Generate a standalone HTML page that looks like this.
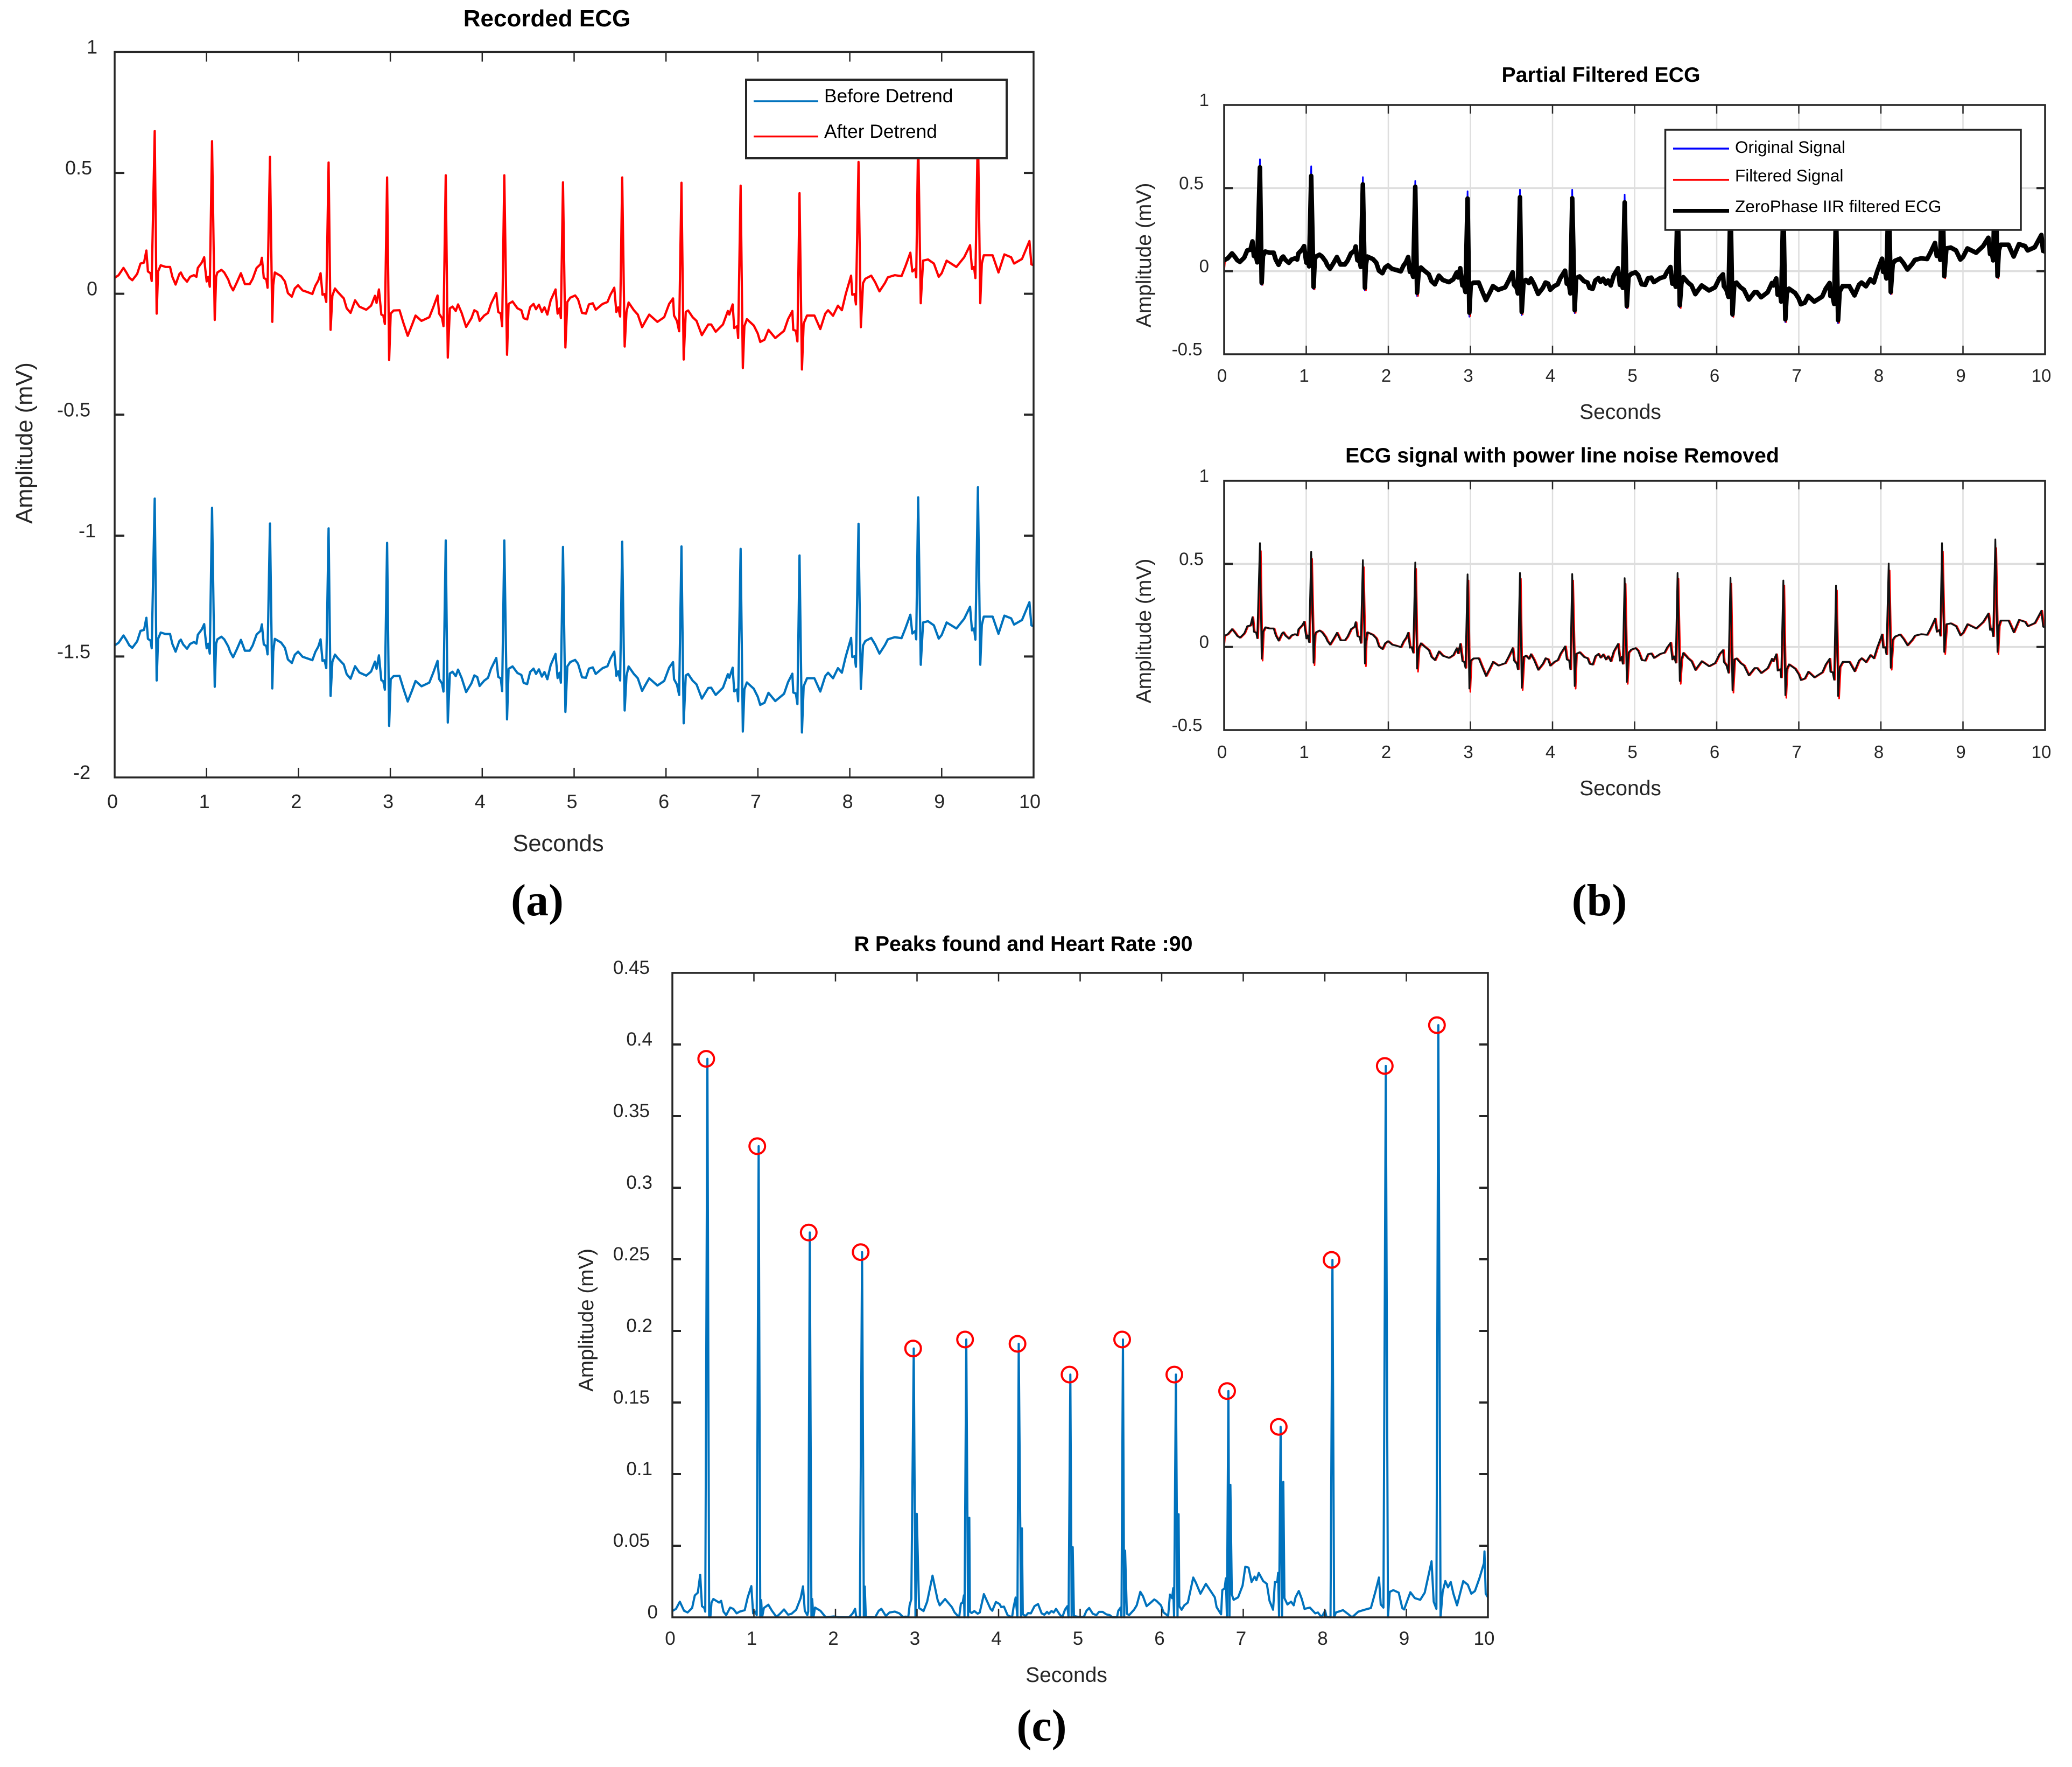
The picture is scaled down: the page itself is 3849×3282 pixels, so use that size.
<!DOCTYPE html>
<html lang="en">
<head>
<meta charset="utf-8">
<title>ECG signal processing figure</title>
<style>
html,body{margin:0;padding:0;background:#fff;}
svg{display:block;}
text{font-family:"Liberation Sans",Arial,sans-serif;fill:#262626;}
.title{font-weight:bold;fill:#000;text-anchor:middle;}
.axis-label{text-anchor:middle;}
.panel-tag{font-family:"Liberation Serif",serif;font-weight:bold;fill:#000;text-anchor:middle;font-size:84px;}
.legend-text{fill:#000;}
</style>
</head>
<body>
<svg id="figure" xmlns="http://www.w3.org/2000/svg" width="3849" height="3282" viewBox="0 0 3849 3282">
  <rect x="0" y="0" width="3849" height="3282" fill="#fff"/>

  <g>
    <g id="a-marks"></g><g id="a-frame"></g>
    <text class="title" x="1016" y="49" font-size="44">Recorded ECG</text>
    <text class="axis-label" x="1037" y="1581" font-size="43.5">Seconds</text>
    <text class="axis-label" font-size="43.5" transform="translate(60 823) rotate(-90)">Amplitude (mV)</text>
    <g>
      <rect x="1386" y="148" width="484" height="146" fill="#fff" stroke="#262626" stroke-width="4"/>
      <line x1="1400" x2="1520" y1="188" y2="188" stroke="#0072BD" stroke-width="3.5"/>
      <text class="legend-text" x="1531" y="190" font-size="35.3">Before Detrend</text>
      <line x1="1400" x2="1520" y1="253.5" y2="253.5" stroke="#ff0000" stroke-width="3.5"/>
      <text class="legend-text" x="1531" y="256" font-size="35.3">After Detrend</text>
    </g>
    <text class="panel-tag" x="998" y="1700">(a)</text>
  </g>

  <g>
    <g id="b1-marks"></g><g id="b1-frame"></g>
    <text class="title" x="2974" y="152" font-size="39.3">Partial Filtered ECG</text>
    <text class="axis-label" x="3010" y="778" font-size="39">Seconds</text>
    <text class="axis-label" font-size="39" transform="translate(2138 474) rotate(-90)">Amplitude (mV)</text>
    <g>
      <rect x="3093.5" y="241" width="660.5" height="186" fill="#fff" stroke="#262626" stroke-width="3.5"/>
      <line x1="3108" x2="3212" y1="276" y2="276" stroke="#0000ff" stroke-width="3.5"/>
      <text class="legend-text" x="3223" y="284" font-size="31.5">Original Signal</text>
      <line x1="3108" x2="3212" y1="334" y2="334" stroke="#ff0000" stroke-width="3.5"/>
      <text class="legend-text" x="3223" y="337" font-size="31.5">Filtered Signal</text>
      <line x1="3108" x2="3212" y1="391.5" y2="391.5" stroke="#000" stroke-width="7"/>
      <text class="legend-text" x="3223" y="394" font-size="31.5">ZeroPhase IIR filtered ECG</text>
    </g>
  </g>

  <g>
    <g id="b2-marks"></g><g id="b2-frame"></g>
    <text class="title" x="2902" y="859" font-size="39.3">ECG signal with power line noise Removed</text>
    <text class="axis-label" x="3010" y="1477" font-size="39">Seconds</text>
    <text class="axis-label" font-size="39" transform="translate(2138 1172) rotate(-90)">Amplitude (mV)</text>
    <text class="panel-tag" x="2971" y="1700">(b)</text>
  </g>

  <g>
    <g id="c-marks"></g><g id="c-frame"></g>
    <text class="title" x="1901" y="1766" font-size="39.3">R Peaks found and Heart Rate :90</text>
    <text class="axis-label" x="1981" y="3124" font-size="39">Seconds</text>
    <text class="axis-label" font-size="38.6" transform="translate(1102 2452) rotate(-90)">Amplitude (mV)</text>
    <text class="panel-tag" x="1935" y="3233">(c)</text>
  </g>
</svg>

<script>
// ---- shared tick labels ----
const xTickLabels = ['0','1','2','3','4','5','6','7','8','9','10'];
const aYTickLabels = ['1','0.5','0','-0.5','-1','-1.5','-2'];
const bYTickLabels = ['1','0.5','0','-0.5'];
const cYTickLabels = ['0.45','0.4','0.35','0.3','0.25','0.2','0.15','0.1','0.05','0'];

// ---- ECG baseline samples (seconds) ----
const baseTimes = [
0,.043,.096,.128,.16,.192,.245,.281,.32,.345,
.362,.39,.403,.473,.501,.554,.603,.628,.663,.703,
.72,.746,.788,.82,.863,.89,.905,.948,.974,.986,
1.001,1.018,1.035,1.104,1.118,1.161,1.193,1.236,1.257,1.289,
1.331,1.374,1.417,1.47,1.502,1.545,1.587,1.602,1.623,1.651,
1.664,1.726,1.743,1.811,1.853,1.885,1.928,1.96,1.996,2.045,
2.098,2.152,2.184,2.216,2.241,2.262,2.284,2.303,2.369,2.397,
2.429,2.493,2.525,2.567,2.616,2.663,2.738,2.791,2.833,2.85,
2.876,2.902,2.923,2.94,3.004,3.036,3.1,3.142,3.189,3.238,
3.274,3.339,3.424,3.467,3.514,3.531,3.563,3.578,3.648,3.676,
3.712,3.737,3.776,3.825,3.882,3.914,3.946,3.972,4.021,4.063,
4.095,4.153,4.174,4.202,4.217,4.287,4.33,4.383,4.426,4.451,
4.489,4.521,4.558,4.585,4.617,4.649,4.677,4.709,4.745,4.798,
4.82,4.841,4.856,4.926,4.958,5.011,5.043,5.086,5.129,5.161,
5.203,5.235,5.31,5.363,5.395,5.437,5.459,5.48,5.501,5.57,
5.593,5.65,5.693,5.74,5.778,5.817,5.906,5.98,6.034,6.077,
6.087,6.119,6.143,6.215,6.241,6.29,6.332,6.39,6.46,6.492,
6.541,6.62,6.673,6.689,6.725,6.742,6.774,6.785,6.853,6.88,
6.955,6.998,7.025,7.072,7.115,7.189,7.285,7.328,7.375,7.385,
7.413,7.43,7.498,7.534,7.615,7.679,7.733,7.764,7.818,7.871,
7.914,7.956,8.014,8.027,8.052,8.067,8.144,8.169,8.233,8.276,
8.323,8.382,8.414,8.489,8.563,8.606,8.659,8.68,8.713,8.723,
8.798,8.851,8.915,8.968,9,9.054,9.16,9.245,9.309,9.33,
9.352,9.367,9.437,9.458,9.554,9.618,9.682,9.756,9.788,9.874,
9.955,9.976,10];

// after-detrend baseline (mV)
const afterBase = [
.066,.077,.107,.088,.066,.056,.082,.125,.129,.179,
.092,.085,.053,.092,.118,.111,.111,.07,.038,.081,
.088,.068,.05,.07,.077,.07,.107,.129,.151,.103,
.051,.07,.029,.07,.088,.099,.088,.059,.036,.014,
.048,.085,.04,.04,.062,.107,.122,.149,.066,.059,
.025,.036,.088,.073,.051,.003,-.012,.022,.035,.014,
.007,-.001,.033,.055,.085,-.004,-.001,-.034,-.008,.022,
.007,-.019,-.06,-.079,-.027,-.053,-.066,-.049,-.008,-.038,
.018,-.086,-.09,-.125,-.082,-.069,-.068,-.12,-.174,-.127,
-.09,-.112,-.097,-.056,-.007,-.082,-.101,-.134,-.06,-.053,
-.071,-.044,-.079,-.137,-.101,-.068,-.075,-.112,-.09,-.079,
-.042,.003,-.075,-.082,-.134,-.042,-.032,-.06,-.068,-.101,
-.106,-.056,-.042,-.064,-.045,-.075,-.056,-.086,-.027,.018,
-.082,-.06,-.101,-.034,-.016,-.007,-.023,-.079,-.082,-.044,
-.039,-.066,-.042,-.034,-.004,.025,-.075,-.056,-.094,-.075,
-.036,-.068,-.086,-.138,-.112,-.086,-.116,-.097,-.042,-.019,
-.09,-.112,-.155,-.075,-.069,-.097,-.112,-.171,-.127,-.127,
-.157,-.127,-.071,-.086,-.044,-.142,-.134,-.183,-.134,-.105,
-.131,-.164,-.199,-.19,-.149,-.183,-.153,-.105,-.071,-.149,
-.153,-.197,-.123,-.09,-.09,-.146,-.082,-.068,-.091,-.049,
-.068,-.001,.075,-.004,-.001,-.044,.044,.062,.075,.048,
.01,.044,.068,.077,.073,.114,.17,.092,.103,.068,
.137,.142,.125,.07,.085,.137,.111,.151,.201,.103,
.111,.065,.125,.159,.159,.088,.163,.151,.125,.144,
.218,.122,.118];

// before-detrend baseline (mV)
const beforeBase = [
-1.454,-1.443,-1.413,-1.432,-1.454,-1.464,-1.437,-1.394,-1.39,-1.34,
-1.427,-1.434,-1.466,-1.427,-1.401,-1.407,-1.407,-1.448,-1.48,-1.437,
-1.43,-1.45,-1.468,-1.448,-1.44,-1.447,-1.41,-1.388,-1.366,-1.414,
-1.466,-1.447,-1.488,-1.447,-1.429,-1.418,-1.429,-1.458,-1.481,-1.503,
-1.469,-1.431,-1.476,-1.476,-1.454,-1.409,-1.394,-1.367,-1.45,-1.457,
-1.491,-1.48,-1.427,-1.442,-1.464,-1.512,-1.527,-1.493,-1.48,-1.501,
-1.508,-1.515,-1.481,-1.459,-1.429,-1.518,-1.515,-1.548,-1.522,-1.492,
-1.507,-1.533,-1.573,-1.592,-1.54,-1.566,-1.579,-1.562,-1.521,-1.551,
-1.495,-1.598,-1.602,-1.637,-1.594,-1.581,-1.58,-1.632,-1.686,-1.639,
-1.601,-1.623,-1.608,-1.567,-1.518,-1.593,-1.612,-1.645,-1.57,-1.563,
-1.581,-1.554,-1.589,-1.647,-1.611,-1.578,-1.585,-1.622,-1.6,-1.588,
-1.551,-1.506,-1.584,-1.591,-1.643,-1.551,-1.541,-1.568,-1.576,-1.609,
-1.614,-1.564,-1.55,-1.572,-1.553,-1.583,-1.564,-1.594,-1.535,-1.489,
-1.589,-1.567,-1.608,-1.541,-1.523,-1.514,-1.53,-1.586,-1.588,-1.55,
-1.545,-1.572,-1.548,-1.54,-1.509,-1.48,-1.58,-1.561,-1.599,-1.58,
-1.541,-1.572,-1.59,-1.642,-1.616,-1.59,-1.62,-1.601,-1.546,-1.523,
-1.594,-1.616,-1.659,-1.578,-1.572,-1.6,-1.615,-1.674,-1.63,-1.629,
-1.659,-1.629,-1.573,-1.588,-1.546,-1.644,-1.636,-1.685,-1.636,-1.607,
-1.633,-1.666,-1.7,-1.691,-1.65,-1.684,-1.654,-1.606,-1.571,-1.649,
-1.653,-1.697,-1.623,-1.59,-1.59,-1.645,-1.581,-1.567,-1.59,-1.548,
-1.567,-1.5,-1.423,-1.502,-1.499,-1.542,-1.454,-1.436,-1.423,-1.45,
-1.488,-1.453,-1.429,-1.42,-1.424,-1.383,-1.327,-1.405,-1.394,-1.429,
-1.359,-1.354,-1.371,-1.426,-1.411,-1.359,-1.384,-1.344,-1.294,-1.392,
-1.384,-1.43,-1.369,-1.335,-1.335,-1.406,-1.331,-1.342,-1.368,-1.349,
-1.275,-1.371,-1.375];

// ---- QRS complexes, one entry per beat ----
const rTimes = [.436,1.06,1.69,2.328,2.965,3.603,4.24,4.879,5.523,6.168,6.812,7.453,8.095,8.744,9.394];
const sTimes = [.457,1.089,1.715,2.35,2.987,3.625,4.27,4.905,5.55,6.192,6.836,7.479,8.12,8.772,9.42];
const afterPeak = [.673,.631,.566,.543,.481,.49,.49,.461,.481,.459,.447,.416,.545,.652,.692];
const afterTrough = [-.082,-.108,-.116,-.149,-.274,-.264,-.252,-.222,-.218,-.272,-.307,-.313,-.138,-.039,-.039];
const beforePeak = [-.847,-.885,-.95,-.97,-1.03,-1.02,-1.02,-1.047,-1.025,-1.045,-1.055,-1.082,-.951,-.842,-.8];
const beforeTrough = [-1.599,-1.625,-1.632,-1.663,-1.787,-1.773,-1.76,-1.729,-1.723,-1.776,-1.81,-1.814,-1.634,-1.534,-1.534];
const zeroPhasePeak = [.625,.573,.522,.508,.437,.445,.439,.414,.445,.416,.4,.369,.502,.625,.647];
const zeroPhaseTrough = [-.07,-.095,-.1,-.13,-.25,-.245,-.235,-.21,-.205,-.26,-.29,-.295,-.125,-.03,-.03];
const filteredPeak = [.577,.53,.48,.47,.4,.41,.4,.38,.41,.38,.37,.34,.46,.575,.595];
const filteredTrough = [-.082,-.11,-.116,-.149,-.27,-.259,-.251,-.222,-.222,-.275,-.306,-.31,-.137,-.043,-.043];
const filteredDelay = 0.012;
const filteredStartValue = 0;

// ---- panel c: processed signal ----
const cTimes = [
0,.044,.092,.143,.187,.242,.275,.312,.341,.363,.392,.403,.451,.466,.48,.502,.539,.572,.598,.627,
.66,.708,.748,.788,.825,.887,.924,.968,.99,1.016,1.034,1.078,1.089,1.1,1.122,1.177,1.221,1.276,1.32,1.369,
1.419,1.463,1.518,1.573,1.602,1.624,1.655,1.666,1.705,1.714,1.73,1.749,1.815,1.881,1.98,2.035,2.167,2.211,2.24,2.255,
2.299,2.348,2.359,2.372,2.486,2.53,2.563,2.618,2.662,2.728,2.783,2.827,2.86,2.893,2.909,2.93,2.981,2.997,3.025,3.08,
3.124,3.19,3.252,3.278,3.344,3.428,3.461,3.516,3.538,3.56,3.575,3.582,3.626,3.641,3.648,3.67,3.703,3.743,3.769,3.82,
3.857,3.901,3.923,3.967,4.011,4.033,4.066,4.11,4.165,4.183,4.209,4.231,4.275,4.286,4.297,4.33,4.363,4.396,4.44,4.484,
4.528,4.561,4.594,4.616,4.649,4.675,4.704,4.748,4.781,4.814,4.843,4.858,4.896,4.909,4.924,4.979,5.045,5.078,5.111,5.155,
5.199,5.232,5.276,5.32,5.364,5.397,5.452,5.468,5.496,5.507,5.54,5.551,5.573,5.6,5.661,5.694,5.738,5.771,5.815,5.87,
5.908,5.936,5.991,6.024,6.079,6.101,6.128,6.141,6.152,6.194,6.207,6.216,6.244,6.277,6.321,6.387,6.42,6.475,6.541,6.607,
6.651,6.673,6.728,6.743,6.772,6.787,6.8,6.831,6.842,6.86,6.882,6.937,6.992,7.025,7.065,7.102,7.139,7.161,7.19,7.245,
7.289,7.322,7.366,7.388,7.417,7.428,7.439,7.476,7.491,7.505,7.542,7.586,7.619,7.641,7.681,7.718,7.751,7.817,7.883,7.916,
7.96,8.004,8.02,8.07,8.114,8.136,8.224,8.29,8.334,8.411,8.488,8.565,8.62,8.664,8.686,8.719,8.774,8.796,8.84,8.906,
8.95,8.972,9.049,9.104,9.17,9.225,9.309,9.335,9.368,9.419,9.445,9.478,9.511,9.544,9.577,9.621,9.698,9.753,9.797,9.841,
9.896,9.951,9.958,9.973,10];
const cValues = [
.0044,.0059,.0109,.0046,.0034,.0065,.0153,.0172,.0297,.0078,.0065,.004,0,0,.0103,.0128,.0115,.0103,.0115,.004,
.0015,.0068,.0059,.0028,.004,.005,.014,.0218,.0028,.004,.0015,0,.012,0,.0065,.0088,.0046,.0003,.0025,.0055,
.0018,.0025,.0053,.0134,.0216,.0046,.0015,.004,0,.0128,0,.0068,.0046,0,.0006,0,0,.0028,.0059,.0003,
0,0,.0215,0,0,.0046,.0059,.0009,.0034,.004,.0028,.0003,.0005,.0003,.0084,.0128,0,.0723,.0065,.0044,
.0109,.0291,.0122,.0084,.0128,.0071,.0034,0,.0096,.0103,.0153,0,0,.0695,.004,.003,.0044,.0025,.0034,.0162,
.0115,.0059,.0046,.0107,.0093,.0071,.0075,.0015,0,.0068,.0138,0,0,.0621,.0021,.0009,.003,.0028,.0078,.0093,
.0028,.0018,.0038,.0025,.0044,.0034,.0059,.0021,0,.0053,.0078,0,0,.049,.0009,.0003,.0003,.0046,.0065,.0025,
.0015,.0038,.0038,.0021,.0015,0,0,.0046,.0068,0,0,.0465,.0025,.0015,.0053,.0084,.0178,.0147,.0078,.0105,
.0125,.0115,.0084,.0034,.0009,.0159,.0134,.0203,0,0,.072,.0078,.0053,.0084,.0103,.0278,.0241,.0165,.0234,.0178,
.014,.0071,.0021,.019,.0203,.0272,0,0,.0925,.0159,.0122,.014,.0222,.0353,.0347,.0247,.0284,.0259,.031,.0253,
.0234,.0115,.0053,.0247,.0247,.031,0,0,.0945,.0134,.009,.0109,.0084,.014,.0184,.0128,.0059,.0068,.0028,.0034,
0,.0046,.0003,0,0,.0034,.005,.0021,0,.004,.0053,.0065,.0178,.0278,.009,.0068,0,.0178,.019,.0172,
.0065,.0055,.0175,.0134,.0122,.0172,.0391,.0109,.0059,0,.0178,.0253,.0209,.0247,.0165,.0084,.0253,.0228,.0165,.0184,
.0272,.0378,.046,.0165,.014];
const cSpikeTimes = [.43,1.058,1.685,2.326,2.96,3.604,4.247,4.88,5.525,6.174,6.818,7.458,8.094,8.748,9.392];
const cPeakLocations = [.415,1.041,1.672,2.309,2.952,3.589,4.232,4.87,5.515,6.155,6.802,7.435,8.083,8.735,9.375];
const cPeakAmplitudes = [.39,.329,.2687,.255,.1877,.194,.191,.1695,.194,.1695,.158,.133,.2496,.385,.4135];

// ---- helpers ----
const SVGNS = 'http://www.w3.org/2000/svg';
function make(tag, parent, attrs) {
  const el = document.createElementNS(SVGNS, tag);
  for (const k in attrs) el.setAttribute(k, attrs[k]);
  parent.appendChild(el);
  return el;
}
function linear(d0, d1, r0, r1) {
  return function (v) { return r0 + (v - d0) * (r1 - r0) / (d1 - d0); };
}
function mergeSeries(tA, vA, tB, vB, tC, vC) {
  const pts = [];
  tA.forEach(function (t, i) { pts.push([t, vA[i]]); });
  tB.forEach(function (t, i) { pts.push([t, vB[i]]); });
  if (tC) tC.forEach(function (t, i) { pts.push([t, vC[i]]); });
  pts.sort(function (p, q) { return p[0] - q[0]; });
  return pts;
}
function drawLine(parentId, name, pts, sx, sy, color, width) {
  const d = pts.map(function (p, i) {
    return (i ? 'L' : 'M') + sx(p[0]).toFixed(1) + ' ' + sy(p[1]).toFixed(1);
  }).join('');
  const el = make('path', document.getElementById(parentId), {
    d: d, fill: 'none', stroke: color, 'stroke-width': width, 'stroke-linejoin': 'round', 'stroke-linecap': 'butt'
  });
  
  
  return el;
}
function drawAxes(cfg) {
  const frame = document.getElementById(cfg.id + '-frame');
  const marks = document.getElementById(cfg.id + '-marks');
  const xs = linear(0, 10, cfg.left, cfg.right);
  const ys = linear(cfg.yMin, cfg.yMax, cfg.bottom, cfg.top);
  if (cfg.grid) {
    xTickLabels.forEach(function (lab) {
      const v = Number(lab);
      if (v === 0 || v === 10) return;
      const g = make('line', marks, { x1: xs(v), x2: xs(v), y1: cfg.top, y2: cfg.bottom, stroke: '#dedede', 'stroke-width': 2.5 });
      
      
    });
    cfg.yLabels.forEach(function (lab) {
      const v = Number(lab);
      if (v === cfg.yMin || v === cfg.yMax) return;
      const g = make('line', marks, { x1: cfg.left, x2: cfg.right, y1: ys(v), y2: ys(v), stroke: '#dedede', 'stroke-width': 3.5 });
      
      
    });
  }
  const box = make('rect', frame, { x: cfg.left, y: cfg.top, width: cfg.right - cfg.left, height: cfg.bottom - cfg.top, fill: 'none', stroke: '#262626', 'stroke-width': 3.5 });
  
  
  xTickLabels.forEach(function (lab) {
    const v = Number(lab);
    if (v !== 0 && v !== 10) {
      const t1 = make('line', frame, { x1: xs(v), x2: xs(v), y1: cfg.bottom, y2: cfg.bottom - cfg.tick, stroke: '#262626', 'stroke-width': 2.5 });
      
      
      const t2 = make('line', frame, { x1: xs(v), x2: xs(v), y1: cfg.top, y2: cfg.top + cfg.tick, stroke: '#262626', 'stroke-width': 2.5 });
      
      
    }
    const txt = make('text', frame, { x: xs(v) - (lab === '10' ? 7 : 4), y: cfg.xLabelY, 'font-size': cfg.fontSize, 'text-anchor': 'middle' });
    txt.textContent = lab;
    
    
  });
  cfg.yLabels.forEach(function (lab) {
    const v = Number(lab);
    if (v !== cfg.yMin && v !== cfg.yMax) {
      const t1 = make('line', frame, { x1: cfg.left, x2: cfg.left + cfg.tick, y1: ys(v), y2: ys(v), stroke: '#262626', 'stroke-width': 4 });
      
      
      const t2 = make('line', frame, { x1: cfg.right, x2: cfg.right - cfg.tick, y1: ys(v), y2: ys(v), stroke: '#262626', 'stroke-width': 4 });
      
      
    }
    const txt = make('text', frame, { x: cfg.labelRight(lab), y: ys(v) + cfg.labelDy, 'font-size': cfg.fontSize, 'text-anchor': 'end' });
    txt.textContent = lab;
    
    
  });
  return { xs: xs, ys: ys };
}

// ---- panel a ----
const aAxes = drawAxes({
  id: 'a', left: 213, right: 1920, top: 96.5, bottom: 1444, yMin: -2, yMax: 1, tick: 18,
  yLabels: aYTickLabels, xLabelY: 1501, fontSize: 36, labelDy: 3,
  labelRight: function (l) { return l.length === 1 ? 181 : (l === '-1' ? 178 : (l.length === 3 ? 171 : 168)); }
});
drawLine('a-marks', 'series-before-detrend', mergeSeries(baseTimes, beforeBase, rTimes, beforePeak, sTimes, beforeTrough), aAxes.xs, aAxes.ys, '#0072BD', 4.2);
drawLine('a-marks', 'series-after-detrend', mergeSeries(baseTimes, afterBase, rTimes, afterPeak, sTimes, afterTrough), aAxes.xs, aAxes.ys, '#ff0000', 4.2);

// ---- panel b ----
function bLabelRight(l) { return l.length === 1 ? 2246 : (l.length === 3 ? 2236 : 2233.5); }
const b1Axes = drawAxes({
  id: 'b1', left: 2274, right: 3799, top: 195, bottom: 658, yMin: -0.5, yMax: 1, tick: 16, grid: true,
  yLabels: bYTickLabels, xLabelY: 709, fontSize: 33, labelDy: 2, labelRight: bLabelRight
});
const b2Axes = drawAxes({
  id: 'b2', left: 2274, right: 3799, top: 893, bottom: 1356, yMin: -0.5, yMax: 1, tick: 16, grid: true,
  yLabels: bYTickLabels, xLabelY: 1408, fontSize: 33, labelDy: 2, labelRight: bLabelRight
});
const originalSeries = mergeSeries(baseTimes, afterBase, rTimes, afterPeak, sTimes, afterTrough);
const zeroPhaseSeries = mergeSeries(baseTimes, afterBase, rTimes, zeroPhasePeak, sTimes, zeroPhaseTrough);
const filteredSeries = [[0, filteredStartValue]].concat(
  mergeSeries(baseTimes, afterBase, rTimes, filteredPeak, sTimes, filteredTrough).map(function (p) {
    return [Math.min(10, p[0] + filteredDelay), p[1]];
  })
);
drawLine('b1-marks', 'series-original-signal', originalSeries, b1Axes.xs, b1Axes.ys, '#0000ff', 3);
drawLine('b1-marks', 'series-filtered-signal', filteredSeries, b1Axes.xs, b1Axes.ys, '#ff0000', 3);
drawLine('b1-marks', 'series-zerophase-iir', zeroPhaseSeries, b1Axes.xs, b1Axes.ys, '#000000', 8.5);
drawLine('b2-marks', 'series-filtered-signal-b2', filteredSeries, b2Axes.xs, b2Axes.ys, '#ff0000', 3);
drawLine('b2-marks', 'series-zerophase-iir-b2', zeroPhaseSeries, b2Axes.xs, b2Axes.ys, '#111111', 3.2);

// ---- panel c ----
const cAxes = drawAxes({
  id: 'c', left: 1249, right: 2764, top: 1807, bottom: 3004, yMin: 0, yMax: 0.45, tick: 16,
  yLabels: cYTickLabels, xLabelY: 3055, fontSize: 35, labelDy: 2,
  labelRight: function (l) { return l.length === 1 ? 1222 : (l.length === 3 ? 1212 : 1207); }
});
drawLine('c-marks', 'series-squared-signal', mergeSeries(cTimes, cValues, cSpikeTimes, cPeakAmplitudes), cAxes.xs, cAxes.ys, '#0072BD', 4);
cPeakLocations.forEach(function (t, i) {
  const c = make('circle', document.getElementById('c-marks'), {
    cx: cAxes.xs(t), cy: cAxes.ys(cPeakAmplitudes[i]), r: 14.5, fill: 'none', stroke: '#ff0000', 'stroke-width': 4
  });
  
  
});
</script>
</body>
</html>
